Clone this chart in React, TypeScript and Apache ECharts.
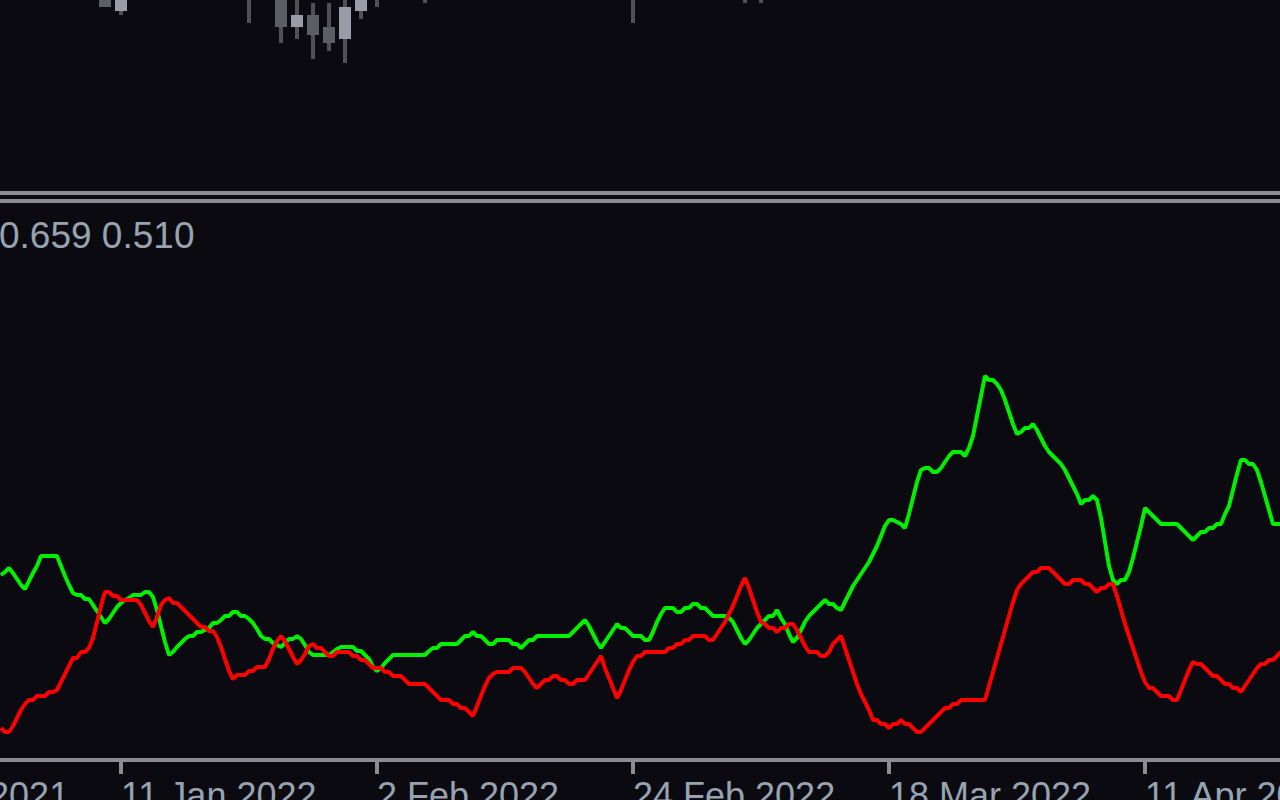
import React, { useEffect, useRef } from "react";
import * as echarts from "echarts";

// H6 bars; bar 0 = 11 Jan 2022 00:00
const FIRST_BAR = -30;

const greenValues = [
  0.608, 0.611, 0.615, 0.610, 0.604, 0.598, 0.594, 0.602, 0.610, 0.617,
  0.627, 0.627, 0.627, 0.627, 0.627, 0.617, 0.607, 0.598, 0.590, 0.588,
  0.588, 0.584, 0.584, 0.578, 0.572, 0.566, 0.560, 0.564, 0.570, 0.576,
  0.580, 0.583, 0.585, 0.588, 0.588, 0.588, 0.591, 0.591, 0.586, 0.573,
  0.557, 0.541, 0.528, 0.531, 0.536, 0.540, 0.544, 0.547, 0.547, 0.551,
  0.551, 0.553, 0.555, 0.560, 0.560, 0.563, 0.567, 0.567, 0.571, 0.571,
  0.567, 0.567, 0.564, 0.560, 0.554, 0.547, 0.544, 0.544, 0.540, 0.538,
  0.536, 0.540, 0.544, 0.544, 0.547, 0.544, 0.538, 0.531, 0.528, 0.528,
  0.528, 0.528, 0.528, 0.531, 0.534, 0.536, 0.536, 0.536, 0.536, 0.532,
  0.532, 0.528, 0.524, 0.516, 0.512, 0.515, 0.520, 0.524, 0.528, 0.528,
  0.528, 0.528, 0.528, 0.528, 0.528, 0.528, 0.528, 0.532, 0.535, 0.535,
  0.539, 0.539, 0.539, 0.539, 0.539, 0.543, 0.547, 0.547, 0.551, 0.547,
  0.547, 0.543, 0.539, 0.539, 0.543, 0.543, 0.543, 0.543, 0.539, 0.539,
  0.535, 0.539, 0.543, 0.543, 0.547, 0.547, 0.547, 0.547, 0.547, 0.547,
  0.547, 0.547, 0.547, 0.551, 0.555, 0.559, 0.563, 0.557, 0.549, 0.541,
  0.535, 0.541, 0.547, 0.553, 0.559, 0.555, 0.555, 0.551, 0.547, 0.547,
  0.547, 0.543, 0.543, 0.551, 0.561, 0.569, 0.575, 0.575, 0.575, 0.571,
  0.571, 0.575, 0.575, 0.579, 0.579, 0.575, 0.575, 0.571, 0.567, 0.567,
  0.567, 0.567, 0.565, 0.561, 0.553, 0.545, 0.539, 0.543, 0.549, 0.555,
  0.559, 0.563, 0.567, 0.567, 0.573, 0.565, 0.559, 0.549, 0.541, 0.545,
  0.553, 0.561, 0.567, 0.571, 0.575, 0.579, 0.583, 0.579, 0.579, 0.575,
  0.573, 0.581, 0.589, 0.597, 0.603, 0.609, 0.615, 0.621, 0.629, 0.637,
  0.647, 0.657, 0.663, 0.663, 0.661, 0.659, 0.655, 0.669, 0.685, 0.701,
  0.713, 0.715, 0.715, 0.711, 0.711, 0.715, 0.721, 0.727, 0.731, 0.731,
  0.731, 0.727, 0.735, 0.747, 0.767, 0.787, 0.807, 0.803, 0.803, 0.799,
  0.793, 0.783, 0.771, 0.759, 0.749, 0.751, 0.755, 0.755, 0.759, 0.753,
  0.745, 0.737, 0.731, 0.727, 0.723, 0.719, 0.713, 0.705, 0.697, 0.689,
  0.679, 0.683, 0.683, 0.687, 0.683, 0.665, 0.641, 0.617, 0.603, 0.599,
  0.603, 0.603, 0.611, 0.625, 0.641, 0.657, 0.675, 0.671, 0.667, 0.663,
  0.659, 0.659, 0.659, 0.659, 0.659, 0.655, 0.651, 0.647, 0.643, 0.647,
  0.651, 0.651, 0.655, 0.655, 0.659, 0.659, 0.669, 0.677, 0.693, 0.709,
  0.723, 0.723, 0.719, 0.719, 0.713, 0.701, 0.687, 0.673, 0.659, 0.659,
  0.659,
];

const redValues = [
  0.455, 0.451, 0.451, 0.457, 0.465, 0.473, 0.479, 0.483, 0.483, 0.487,
  0.487, 0.487, 0.491, 0.491, 0.493, 0.501, 0.509, 0.517, 0.525, 0.525,
  0.531, 0.531, 0.535, 0.545, 0.561, 0.577, 0.591, 0.591, 0.587, 0.587,
  0.583, 0.583, 0.583, 0.583, 0.583, 0.578, 0.570, 0.562, 0.556, 0.566,
  0.578, 0.583, 0.585, 0.580, 0.580, 0.576, 0.572, 0.568, 0.564, 0.560,
  0.556, 0.556, 0.552, 0.552, 0.546, 0.536, 0.524, 0.512, 0.504, 0.508,
  0.508, 0.508, 0.512, 0.512, 0.516, 0.516, 0.516, 0.524, 0.534, 0.542,
  0.547, 0.542, 0.534, 0.526, 0.519, 0.523, 0.529, 0.537, 0.539, 0.535,
  0.535, 0.531, 0.527, 0.527, 0.531, 0.531, 0.531, 0.531, 0.527, 0.527,
  0.523, 0.523, 0.519, 0.515, 0.515, 0.515, 0.511, 0.511, 0.507, 0.507,
  0.507, 0.503, 0.499, 0.499, 0.499, 0.499, 0.499, 0.495, 0.491, 0.487,
  0.483, 0.483, 0.483, 0.479, 0.479, 0.475, 0.475, 0.471, 0.467, 0.477,
  0.487, 0.497, 0.505, 0.509, 0.511, 0.511, 0.511, 0.511, 0.515, 0.515,
  0.515, 0.511, 0.505, 0.499, 0.495, 0.499, 0.503, 0.503, 0.507, 0.507,
  0.503, 0.503, 0.499, 0.499, 0.503, 0.503, 0.503, 0.509, 0.515, 0.521,
  0.527, 0.515, 0.505, 0.495, 0.485, 0.493, 0.503, 0.513, 0.521, 0.527,
  0.527, 0.531, 0.531, 0.531, 0.531, 0.531, 0.531, 0.535, 0.535, 0.539,
  0.539, 0.543, 0.543, 0.547, 0.547, 0.547, 0.547, 0.543, 0.543, 0.549,
  0.555, 0.561, 0.569, 0.577, 0.587, 0.597, 0.605, 0.595, 0.583, 0.571,
  0.561, 0.559, 0.555, 0.555, 0.551, 0.555, 0.555, 0.559, 0.559, 0.553,
  0.545, 0.537, 0.531, 0.531, 0.531, 0.527, 0.527, 0.531, 0.539, 0.543,
  0.547, 0.535, 0.523, 0.511, 0.499, 0.489, 0.481, 0.473, 0.463, 0.463,
  0.459, 0.459, 0.455, 0.459, 0.459, 0.463, 0.459, 0.459, 0.455, 0.451,
  0.451, 0.455, 0.459, 0.463, 0.467, 0.471, 0.475, 0.475, 0.479, 0.479,
  0.483, 0.483, 0.483, 0.483, 0.483, 0.483, 0.483, 0.497, 0.511, 0.525,
  0.539, 0.553, 0.567, 0.581, 0.593, 0.599, 0.603, 0.607, 0.611, 0.611,
  0.615, 0.615, 0.615, 0.611, 0.607, 0.603, 0.599, 0.599, 0.603, 0.603,
  0.603, 0.599, 0.599, 0.595, 0.591, 0.595, 0.595, 0.599, 0.599, 0.587,
  0.573, 0.559, 0.547, 0.535, 0.523, 0.511, 0.501, 0.495, 0.495, 0.491,
  0.487, 0.487, 0.487, 0.483, 0.483, 0.493, 0.503, 0.513, 0.521, 0.519,
  0.519, 0.515, 0.511, 0.507, 0.507, 0.503, 0.499, 0.499, 0.495, 0.495,
  0.491, 0.497, 0.503, 0.509, 0.515, 0.519, 0.519, 0.523, 0.523, 0.527,
  0.531,
];

const tickBars = [-64, 0, 64, 128, 192, 256];
const tickLabels = ["20 Dec 2021", "11 Jan 2022", "2 Feb 2022", "24 Feb 2022", "18 Mar 2022", "11 Apr 2022"];

// Daily candles of the upper pane (only their lower parts are visible)
const candleBars = [-4, 0, 32, 40, 44, 48, 52, 56, 60, 64, 76, 128, 156, 160];
const candleOpen = [1.152, 1.1489, 1.153, 1.151, 1.1473, 1.1485, 1.1473, 1.1461, 1.1489, 1.151, 1.1512, 1.1515, 1.151, 1.152];
const candleClose = [1.1493, 1.1515, 1.154, 1.1473, 1.1485, 1.1465, 1.1457, 1.1493, 1.151, 1.152, 1.152, 1.1505, 1.152, 1.151];
const candleLow = [1.1493, 1.1485, 1.1477, 1.1457, 1.1461, 1.1441, 1.1449, 1.1437, 1.1481, 1.1493, 1.1497, 1.1477, 1.1497, 1.1497];
const candleHigh = [1.153, 1.1525, 1.155, 1.152, 1.151, 1.1497, 1.1497, 1.1505, 1.152, 1.153, 1.153, 1.153, 1.153, 1.153];

const indicatorLabel = "0.659 0.510";

const BG = "#0a0a10";
const GRID_GRAY = "#8b8b91";
const TEXT = "#97a3b0";
const FONT = "Liberation Sans";

// The chart canvas starts left of the window so that the "20 Dec 2021" tick (bar -64) is its left edge
const SHIFT = 135;
const CHART_W = 1416;

export default function App() {
  const ref = useRef<HTMLDivElement>(null);

  useEffect(() => {
    if (!ref.current) return;
    const chart = echarts.init(ref.current, undefined, { renderer: "svg" });

    const greenData = greenValues.map((v, k) => [FIRST_BAR + k, v]);
    const redData = redValues.map((v, k) => [FIRST_BAR + k, v]);
    const candleData = candleBars.map((b, k) => [b, candleOpen[k], candleClose[k], candleLow[k], candleHigh[k]]);

    const xCommon = {
      type: "value" as const,
      min: -64,
      max: 290,
      interval: 64,
      splitLine: { show: false },
    };

    chart.setOption({
      animation: false,
      backgroundColor: BG,
      grid: [
        { left: 0, right: 0, top: 0, height: 190, outerBoundsMode: "none", containLabel: false },
        { left: 0, right: 0, top: 204, bottom: 40, outerBoundsMode: "none", containLabel: false },
      ],
      xAxis: [
        { ...xCommon, gridIndex: 0, show: false },
        {
          ...xCommon,
          gridIndex: 1,
          axisLine: { show: true, lineStyle: { color: GRID_GRAY, width: 4 } },
          axisTick: { show: true, length: 14, lineStyle: { color: GRID_GRAY, width: 4 } },
          axisLabel: {
            show: true,
            color: TEXT,
            fontFamily: FONT,
            fontSize: 36,
            align: "left",
            verticalAlign: "top",
            margin: 17,
            showMinLabel: true,
            showMaxLabel: false,
            hideOverlap: false,
            formatter: (val: number) => {
              const k = tickBars.indexOf(val);
              return k >= 0 ? tickLabels[k] : "";
            },
          },
        },
      ],
      yAxis: [
        { type: "value", gridIndex: 0, min: 1.131, max: 1.15, show: false, splitLine: { show: false } },
        { type: "value", gridIndex: 1, min: 0.423, max: 0.979, show: false, splitLine: { show: false } },
      ],
      graphic: [
        { type: "rect", shape: { x: SHIFT, y: 191, width: 1280, height: 4 }, style: { fill: GRID_GRAY } },
        { type: "rect", shape: { x: SHIFT, y: 199, width: 1280, height: 4 }, style: { fill: GRID_GRAY } },
        {
          type: "text",
          x: SHIFT - 1,
          y: 217,
          style: {
            text: indicatorLabel,
            fill: TEXT,
            font: `37px "${FONT}"`,
            textVerticalAlign: "top",
          },
        },
      ],
      series: [
        {
          type: "custom",
          xAxisIndex: 0,
          yAxisIndex: 0,
          encode: { x: 0, y: [1, 2, 3, 4] },
          data: candleData,
          renderItem: (params: any, api: any) => {
            const bar = api.value(0);
            const o = api.value(1);
            const c = api.value(2);
            const l = api.value(3);
            const h = api.value(4);
            const pO = api.coord([bar, o]);
            const pC = api.coord([bar, c]);
            const pL = api.coord([bar, l]);
            const pH = api.coord([bar, h]);
            const bw = api.size([3, 0])[0];
            const ww = api.size([1, 0])[0];
            const up = c >= o;
            return {
              type: "group",
              children: [
                {
                  type: "rect",
                  shape: { x: pL[0] - ww / 2, y: pH[1], width: ww, height: pL[1] - pH[1] },
                  style: { fill: "#505156" },
                },
                {
                  type: "rect",
                  shape: {
                    x: pO[0] - bw / 2,
                    y: Math.min(pO[1], pC[1]),
                    width: bw,
                    height: Math.abs(pO[1] - pC[1]),
                  },
                  style: { fill: up ? "#9a9ba7" : "#5d5e63" },
                },
              ],
            };
          },
        },
        {
          type: "line",
          xAxisIndex: 1,
          yAxisIndex: 1,
          data: greenData,
          showSymbol: false,
          symbol: "none",
          lineStyle: { color: "#00f000", width: 4 },
          z: 2,
        },
        {
          type: "line",
          xAxisIndex: 1,
          yAxisIndex: 1,
          data: redData,
          showSymbol: false,
          symbol: "none",
          lineStyle: { color: "#ff0000", width: 4 },
          z: 3,
        },
      ],
    });

    return () => chart.dispose();
  }, []);

  return (
    <div
      ref={ref}
      style={{ position: "fixed", left: -SHIFT, top: 0, width: CHART_W, height: 800, background: BG }}
    />
  );
}
